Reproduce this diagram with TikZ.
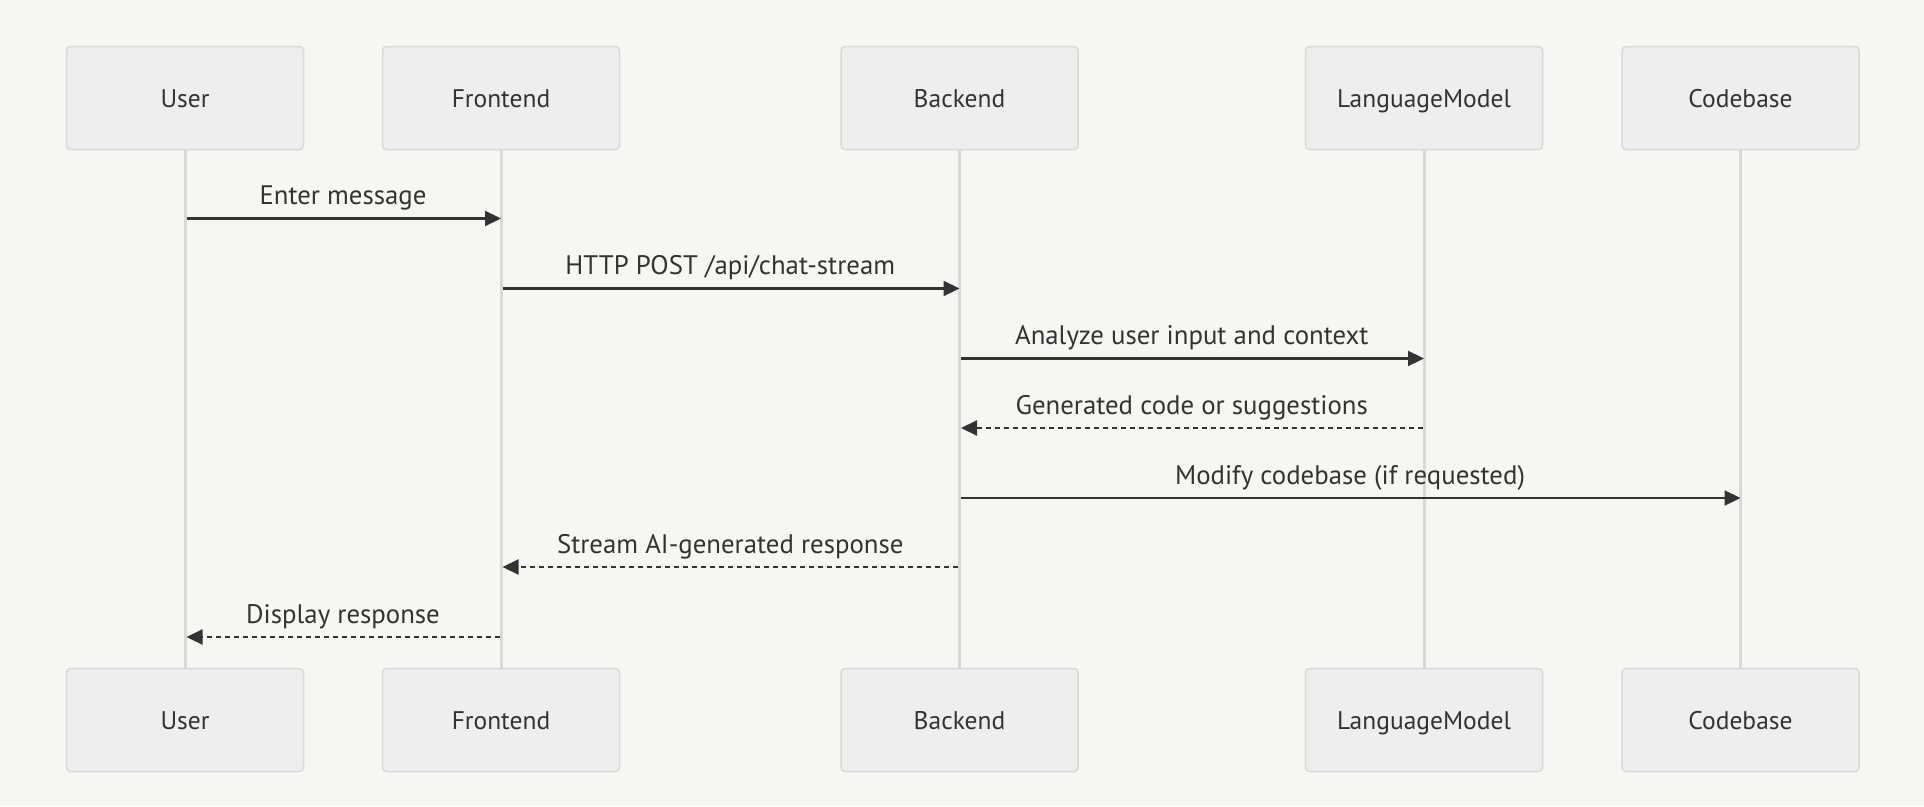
\documentclass[tikz,border=0pt]{standalone}
\usepackage{fontspec}
\setmainfont{PT Sans}
\usetikzlibrary{arrows.meta,calc}
\definecolor{bgc}{HTML}{F7F6F3}
\definecolor{boxfill}{HTML}{EEEEEE}
\definecolor{boxline}{HTML}{D9D9D9}
\definecolor{lifec}{HTML}{D9D9D9}
\definecolor{ink}{HTML}{333333}
\tikzset{
  actor/.style={draw=boxline, line width=1.5pt, fill=boxfill, rounded corners=4pt,
    minimum width=237pt, minimum height=103pt, inner sep=0pt, text=ink,
    text height=18pt, text depth=0pt,
    font=\fontsize{25.5}{30}\selectfont},
  lifeline/.style={draw=lifec, line width=3pt},
  msg/.style={draw=ink, line width=2.2pt, -{Triangle[length=16pt,width=15pt]}},
  reply/.style={msg, dash pattern=on 5pt off 4pt},
  msglabel/.style={anchor=base, text=ink, inner sep=0pt, font=\fontsize{26.8}{31}\selectfont},
}
\begin{document}
\begin{tikzpicture}[x=1pt,y=-1pt]
\fill[bgc] (0,0) rectangle (1924,806);
\useasboundingbox (0,0) rectangle (1924,806);
% top actors
\node[actor] (ut) at (185,98) {User};
\node[actor] (ft) at (501,98) {Frontend};
\node[actor] (bt) at (959.5,98) {Backend};
\node[actor] (lt) at (1424,98) {LanguageModel};
\node[actor] (ct) at (1740.5,98) {Codebase};
% bottom actors
\node[actor] (ub) at (185,720) {User};
\node[actor] (fb) at (501,720) {Frontend};
\node[actor] (bb) at (959.5,720) {Backend};
\node[actor] (lb) at (1424,720) {LanguageModel};
\node[actor] (cb) at (1740.5,720) {Codebase};
% lifelines
\draw[lifeline] (ut.south) -- (ub.north);
\draw[lifeline] (ft.south) -- (fb.north);
\draw[lifeline] (bt.south) -- (bb.north);
\draw[lifeline] (lt.south) -- (lb.north);
\draw[lifeline] (ct.south) -- (cb.north);
% message anchor points
\coordinate (m1a) at (ut.south |- 0,218.5);
\coordinate (m1b) at (ft.south |- 0,218.5);
\coordinate (m2a) at (ft.south |- 0,288.5);
\coordinate (m2b) at (bt.south |- 0,288.5);
\coordinate (m3a) at (bt.south |- 0,358.5);
\coordinate (m3b) at (lt.south |- 0,358.5);
\coordinate (m4a) at (lt.south |- 0,428);
\coordinate (m4b) at (bt.south |- 0,428);
\coordinate (m5a) at (bt.south |- 0,498);
\coordinate (m5b) at (ct.south |- 0,498);
\coordinate (m6a) at (bt.south |- 0,567);
\coordinate (m6b) at (ft.south |- 0,567);
\coordinate (m7a) at (ft.south |- 0,637);
\coordinate (m7b) at (ut.south |- 0,637);
% messages
\draw[msg] ([xshift=1.5pt]m1a) -- (m1b);
\draw[msg] ([xshift=1.5pt]m2a) -- (m2b);
\draw[msg] ([xshift=1.5pt]m3a) -- (m3b);
\draw[reply] ([xshift=-1.5pt]m4a) -- ([xshift=1.5pt]m4b);
\draw[msg] ([xshift=1.5pt]m5a) -- (m5b);
\draw[reply] ([xshift=-1.5pt]m6a) -- ([xshift=1.5pt]m6b);
\draw[reply] ([xshift=-1.5pt]m7a) -- ([xshift=1.5pt]m7b);
% labels
\node[msglabel] (l1) at ($(m1a)!0.5!(m1b)+(0,-14)$) {Enter message};
\node[msglabel] (l2) at ($(m2a)!0.5!(m2b)+(0,-14)$) {HTTP POST /api/chat-stream};
\node[msglabel] (l3) at ($(m3a)!0.5!(m3b)+(0,-14)$) {Analyze user input and context};
\node[msglabel] (l4) at ($(m4a)!0.5!(m4b)+(0,-14)$) {Generated code or suggestions};
\node[msglabel] (l5) at ($(m5a)!0.5!(m5b)+(0,-14)$) {Modify codebase (if requested)};
\node[msglabel] (l6) at ($(m6a)!0.5!(m6b)+(0,-14)$) {Stream AI-generated response};
\node[msglabel] (l7) at ($(m7a)!0.5!(m7b)+(0,-14)$) {Display response};
\end{tikzpicture}
\end{document}
